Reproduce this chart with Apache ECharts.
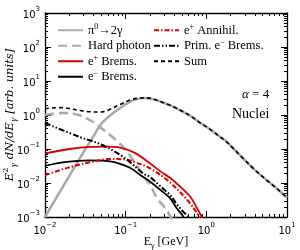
<!DOCTYPE html>
<html><head><meta charset="utf-8">
<script src="https://cdn.jsdelivr.net/npm/echarts@6/dist/echarts.min.js"></script>
<style>html,body{margin:0;padding:0;background:#fff}#c{width:300px;height:250px}</style>
</head><body><div id="c"></div>
<script>
// ---- tick values ----
const xMajorTicks = [0.01, 0.1, 1, 10];
const yMajorTicks = [0.001, 0.01, 0.1, 1, 10, 100, 1000];

// ---- series data (E in GeV, E^2 dN/dE in arb. units) ----
const pi0E = [0.01, 0.015, 0.02, 0.03, 0.04, 0.05, 0.065, 0.085, 0.113, 0.14, 0.173, 0.21, 0.266, 0.35, 0.47, 0.63, 0.83, 1.11, 1.47, 1.7, 2.15, 2.86, 3.81, 5.59, 7.43, 10];
const pi0V = [0.001, 0.0051, 0.016, 0.081, 0.24, 0.56, 1.0, 1.6, 2.45, 2.95, 3.15, 3.0, 2.5, 1.95, 1.4, 0.95, 0.6, 0.38, 0.23, 0.18, 0.105, 0.053, 0.027, 0.0122, 0.007, 0.0037];

const hardE = [0.01, 0.0153, 0.0235, 0.036, 0.048, 0.065, 0.093, 0.13, 0.164, 0.2, 0.244, 0.3, 0.35, 0.4];
const hardV = [1.0, 1.15, 1.07, 0.71, 0.44, 0.25, 0.115, 0.04, 0.017, 0.009, 0.0036, 0.002, 0.00115, 0.0006];

const ePlusBremE = [0.01, 0.0204, 0.036, 0.059, 0.085, 0.13, 0.2, 0.27, 0.35, 0.47, 0.63, 0.75, 0.88, 1.0];
const ePlusBremV = [0.074, 0.1, 0.115, 0.118, 0.11, 0.077, 0.038, 0.022, 0.0145, 0.008, 0.004, 0.002, 0.001, 0.0005];

const eMinusBremE = [0.01, 0.0177, 0.036, 0.064, 0.113, 0.15, 0.2, 0.27, 0.35, 0.43, 0.52, 0.7];
const eMinusBremV = [0.032, 0.041, 0.046, 0.043, 0.028, 0.0174, 0.011, 0.0062, 0.0037, 0.0018, 0.001, 0.0002];

const annE = [0.01, 0.0154, 0.0235, 0.036, 0.064, 0.093, 0.13, 0.2, 0.35, 0.63, 0.83, 1.0];
const annV = [0.017, 0.024, 0.032, 0.041, 0.051, 0.05, 0.041, 0.027, 0.0107, 0.0025, 0.00094, 0.0004];

const primE = [0.01, 0.027, 0.048, 0.093, 0.165, 0.2, 0.27, 0.35, 0.43, 0.52, 0.63, 0.75];
const primV = [0.58, 0.225, 0.14, 0.059, 0.019, 0.015, 0.008, 0.0046, 0.0024, 0.0014, 0.00093, 0.0005];

const sumE = [0.01, 0.015, 0.02, 0.027, 0.036, 0.048, 0.057, 0.065, 0.085, 0.113, 0.14, 0.173, 0.21, 0.266, 0.35, 0.47, 0.63, 0.83, 1.11, 1.47, 1.7, 2.15, 2.86, 3.81, 5.59, 7.43, 10];
const sumV = [1.55, 1.65, 1.55, 1.35, 1.25, 1.22, 1.3, 1.5, 2.04, 2.76, 3.1, 3.2, 3.03, 2.52, 1.96, 1.41, 0.95, 0.6, 0.38, 0.23, 0.18, 0.105, 0.053, 0.027, 0.0122, 0.007, 0.0037];

const legendText = {
  pi0: 'π{sup|0}→2γ',
  hard: 'Hard photon',
  eplus: 'e{sup|+} Brems.',
  eminus: 'e{sup|−} Brems.',
  ann: 'e{sup|+} Annihil.',
  prim: 'Prim. e{sup|−} Brems.',
  sum: 'Sum'
};

function pairs(xs, ys) { return xs.map((x, i) => [x, ys[i]]); }
// tick positions in decades (log10 space) for helper tick axes
function minorTicksLog(loExp, hiExp) {
  const out = [];
  for (let e = loExp; e < hiExp; e++) for (let m = 2; m <= 9; m++) out.push(e + Math.log10(m));
  return out;
}
const xMinorLog = minorTicksLog(-2, 1);
const yMinorLog = minorTicksLog(-3, 3);
const xMajorLog = xMajorTicks.map(v => Math.round(Math.log10(v)));
const yMajorLog = yMajorTicks.map(v => Math.round(Math.log10(v)));

const SERIF = 'Liberation Serif';
const supFmt = v => {
  const e = Math.round(Math.log10(v));
  return '{b|10}{s|' + (e < 0 ? '−' + (-e) : e) + '}';
};
const tickRich = {
  b: { fontFamily: 'DejaVu Sans', fontSize: 10, color: '#000', lineHeight: 14, verticalAlign: 'bottom' },
  s: { fontFamily: 'DejaVu Sans', fontSize: 7, color: '#000', lineHeight: 14, verticalAlign: 'top' }
};

// main (data) log axes: frame line + labels
function logAx(kind, pos, showLabel, extra) {
  return Object.assign({
    type: 'log', logBase: 10,
    min: kind === 'x' ? 0.01 : 0.001, max: kind === 'x' ? 10 : 1000,
    interval: 1, position: pos,
    axisLine: { show: true, onZero: false, lineStyle: { color: '#000', width: 1.3 } },
    axisTick: { show: false },
    axisLabel: { show: showLabel, formatter: supFmt, rich: tickRich, margin: 5 },
    splitLine: { show: false }, minorTick: { show: false },
    nameMoveOverlap: false
  }, extra || {});
}
// helper tick axes in decade units (no data attached)
function tickAx(kind, pos, major) {
  const lo = kind === 'x' ? -2 : -3, hi = kind === 'x' ? 1 : 3;
  return {
    type: 'value', min: lo, max: hi, interval: 1, position: pos,
    axisLine: { show: false, onZero: false },
    axisTick: { show: true, inside: true, length: major ? 6 : 3, lineStyle: { color: '#000', width: 1 },
      customValues: major ? (kind === 'x' ? xMajorLog : yMajorLog) : (kind === 'x' ? xMinorLog : yMinorLog) },
    axisLabel: { show: false },
    splitLine: { show: false }, minorTick: { show: false }
  };
}

const chart = echarts.init(document.getElementById('c'), null, { renderer: 'canvas' });

const lineBase = { type: 'line', showSymbol: false, symbol: 'none', smooth: 0.35, clip: true, xAxisIndex: 0, yAxisIndex: 0, z: 3 };
const GRAY = '#aaaaaa', RED = '#d40000', BLACK = '#000000';

const series = [
  Object.assign({}, lineBase, { name: 'pi0', data: pairs(pi0E, pi0V), lineStyle: { color: GRAY, width: 2.6, type: 'solid' }, itemStyle: { color: GRAY }, z: 2 }),
  Object.assign({}, lineBase, { name: 'hard', data: pairs(hardE, hardV), lineStyle: { color: GRAY, width: 2.6, type: [9, 5] }, itemStyle: { color: GRAY }, z: 2 }),
  Object.assign({}, lineBase, { name: 'eplus', data: pairs(ePlusBremE, ePlusBremV), lineStyle: { color: RED, width: 1.8, type: 'solid' }, itemStyle: { color: RED } }),
  Object.assign({}, lineBase, { name: 'eminus', data: pairs(eMinusBremE, eMinusBremV), lineStyle: { color: BLACK, width: 1.8, type: 'solid' }, itemStyle: { color: BLACK } }),
  Object.assign({}, lineBase, { name: 'ann', data: pairs(annE, annV), lineStyle: { color: RED, width: 2, type: [5, 2, 1.5, 2] }, itemStyle: { color: RED } }),
  Object.assign({}, lineBase, { name: 'prim', data: pairs(primE, primV), lineStyle: { color: BLACK, width: 2, type: [6, 2, 1.5, 2, 1.5, 2] }, itemStyle: { color: BLACK } }),
  Object.assign({}, lineBase, { name: 'sum', data: pairs(sumE, sumV), lineStyle: { color: BLACK, width: 1.6, type: [4, 3] }, itemStyle: { color: BLACK }, z: 4 })
];

const legendCommon = {
  orient: 'vertical', itemWidth: 25, itemHeight: 10, itemGap: 1, padding: 0,
  selectedMode: false,
  itemStyle: { opacity: 0, borderWidth: 0 },
  formatter: n => legendText[n],
  textStyle: { fontFamily: SERIF, fontSize: 12.5, color: '#000', lineHeight: 14.5,
    rich: { sup: { fontFamily: SERIF, fontSize: 8, color: '#000', verticalAlign: 'top', lineHeight: 14.5 } } }
};

chart.setOption({
  animation: false,
  backgroundColor: '#fff',
  grid: { left: 45, right: 13, top: 13, bottom: 33, containLabel: false, outerBoundsMode: 'none' },
  xAxis: [
    logAx('x', 'bottom', true, {
      name: '{n|E}{sub|γ}{n| [GeV]}', nameLocation: 'middle', nameGap: 17,
      nameTextStyle: { fontFamily: SERIF, fontSize: 12, color: '#000',
        rich: { n: { fontFamily: SERIF, fontSize: 12, color: '#000' },
                sub: { fontFamily: SERIF, fontSize: 8, color: '#000', verticalAlign: 'bottom', lineHeight: 16 } } }
    }),
    logAx('x', 'top', false),
    tickAx('x', 'bottom', true),
    tickAx('x', 'bottom', false),
    tickAx('x', 'top', true),
    tickAx('x', 'top', false)
  ],
  yAxis: [
    logAx('y', 'left', true, {
      name: '{i|E}{sup|2}{sub|γ}{i| dN/dE}{sub|γ}{i| [arb. units]}', nameLocation: 'middle', nameGap: 27, nameRotate: 90,
      nameTextStyle: { fontFamily: 'DejaVu Serif', fontSize: 11.5, color: '#000',
        rich: { i: { fontFamily: 'DejaVu Serif', fontStyle: 'italic', fontSize: 11.5, color: '#000' },
                sup: { fontFamily: 'DejaVu Serif', fontSize: 8, color: '#000', verticalAlign: 'top', lineHeight: 16 },
                sub: { fontFamily: 'DejaVu Serif', fontStyle: 'italic', fontSize: 8, color: '#000', verticalAlign: 'bottom', lineHeight: 16 } } }
    }),
    logAx('y', 'right', false),
    tickAx('y', 'left', true),
    tickAx('y', 'left', false),
    tickAx('y', 'right', true),
    tickAx('y', 'right', false)
  ],
  legend: [
    Object.assign({}, legendCommon, { data: ['pi0', 'hard', 'eplus', 'eminus'], left: 57, top: 23 }),
    Object.assign({}, legendCommon, { data: ['ann', 'prim', 'sum'], left: 153, top: 23 })
  ],
  graphic: [
    { type: 'text', left: 242, top: 88, style: { text: '{a|α} = 4', fontFamily: SERIF, fontSize: 13, fill: '#000',
      rich: { a: { fontFamily: SERIF, fontStyle: 'italic', fontSize: 13, fill: '#000' } } } },
    { type: 'text', left: 232, top: 107, style: { text: 'Nuclei', fontFamily: SERIF, fontSize: 14, fill: '#000' } }
  ],
  series: series
});
</script>
</body></html>
